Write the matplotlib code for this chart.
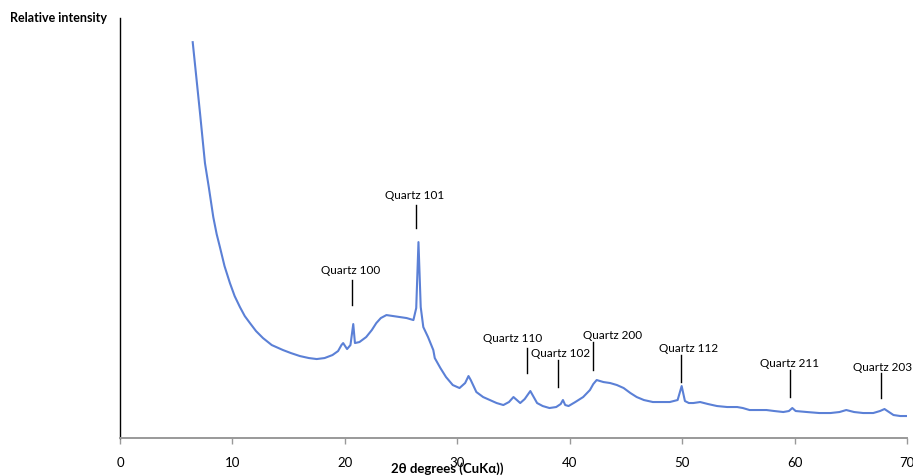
import matplotlib.pyplot as plt

plt.rcParams['font.family'] = ['Lato', 'DejaVu Sans']

# Diffraction trace (2theta in degrees, relative intensity)
two_theta = [6.47, 6.8, 7.12, 7.56, 7.9, 8.30, 8.6, 8.89, 9.3, 9.78, 10.2, 10.67, 11.1,
             11.56, 12.1, 12.72, 13.5, 14.5, 15.2, 16.0, 16.8, 17.5, 18.2, 18.9,
             19.4, 19.7, 19.85, 20.2, 20.5, 20.75, 20.9, 21.3, 21.9, 22.4, 22.8,
             23.2, 23.7, 24.3, 24.9, 25.5, 26.1, 26.35, 26.55, 26.75, 26.98, 27.4,
             27.87, 28.0, 28.5, 29.0, 29.6, 30.2, 30.7, 31.0, 31.2, 31.7, 32.3,
             32.9, 33.5, 34.1, 34.6, 35.0, 35.3, 35.6, 36.0, 36.5, 36.7, 37.1,
             37.6, 38.2, 38.8, 39.2, 39.4, 39.6, 39.9, 40.5, 41.2, 41.8, 42.1,
             42.4, 43.0, 43.6, 44.2, 44.8, 45.4, 45.96, 46.6, 47.4, 48.1, 48.9,
             49.6, 49.96, 50.25, 50.6, 51.0, 51.6, 52.3, 53.1, 54.0, 54.9, 55.4,
             56.0, 56.8, 57.5, 58.2, 59.0, 59.5, 59.8, 60.1, 61.1, 62.2, 63.2,
             64.0, 64.6, 65.3, 66.1, 67.0, 67.6, 68.0, 68.4, 68.8, 69.4, 70.0]
intensity = [396, 360, 325, 275, 251, 221, 204, 191, 172, 155, 142, 131, 122,
             115, 107, 100, 93, 88, 85, 82, 80, 79, 80, 83,
             87, 93, 95, 89, 93, 114, 95, 96, 101, 108, 115,
             120, 123, 122, 121, 120, 118, 130, 196, 131, 111, 101,
             88, 80, 70, 61, 53, 50, 55, 62, 58, 46, 41,
             38, 35, 33, 36, 41, 38, 35, 39, 47, 43, 35,
             32, 30, 31, 34, 38, 33, 32, 36, 41, 48, 54,
             58, 56, 55, 53, 50, 45, 41, 38, 36, 36, 36,
             38, 52, 37, 35, 35, 36, 34, 32, 31, 31, 30,
             28, 28, 28, 27, 26, 27, 30, 27, 26, 25, 25,
             26, 28, 26, 25, 25, 27, 29, 26, 23, 22, 22]

# Peak labels: name, marker x, marker bottom/top, text x, text y
peak_names = ['Quartz 100', 'Quartz 101', 'Quartz 110', 'Quartz 102',
              'Quartz 200', 'Quartz 112', 'Quartz 211', 'Quartz 203']
peak_x = [20.63, 26.33, 36.2, 39.0, 42.07, 49.9, 59.6, 67.7]
mark_lo = [133, 210, 65, 51, 68, 56, 41, 40]
mark_hi = [158, 233, 90, 78, 96, 83, 68, 65]
text_x = [20.55, 26.24, 34.96, 39.2, 43.85, 50.6, 59.6, 67.87]
text_y = [168, 243, 100, 85, 103, 90, 75, 71]

fig = plt.figure(figsize=(9.13, 4.76), dpi=100)
ax = fig.add_axes([0.1314, 0.0798, 0.862, 0.882])

ax.plot(two_theta, intensity, color='#5b80d6', linewidth=1.5)

for name, px, lo, hi, tx, ty in zip(peak_names, peak_x, mark_lo, mark_hi, text_x, text_y):
    ax.plot([px, px], [lo, hi], color='black', linewidth=1.0)
    ax.text(tx, ty, name, ha='center', va='center', fontsize=8.5, clip_on=False)

ax.set_xlim(0, 70)
ax.set_ylim(0, 420)
ax.set_xticks(range(0, 71, 10))
ax.set_yticks([])
ax.tick_params(axis='x', length=4, width=1, color='#999999', labelsize=9.5, pad=10)

ax.spines['top'].set_visible(False)
ax.spines['right'].set_visible(False)
ax.spines['bottom'].set_color('#999999')
ax.spines['bottom'].set_linewidth(1.4)
ax.spines['left'].set_color('black')
ax.spines['left'].set_linewidth(1.0)

fig.text(0.011, 0.962, 'Relative intensity', ha='left', va='center',
         fontsize=9, fontweight='bold')
fig.text(0.4896, 0.003, '2θ degrees (CuKα))', ha='center', va='bottom',
         fontsize=9.5, fontweight='bold')

fig.savefig('out.png', dpi=100)
